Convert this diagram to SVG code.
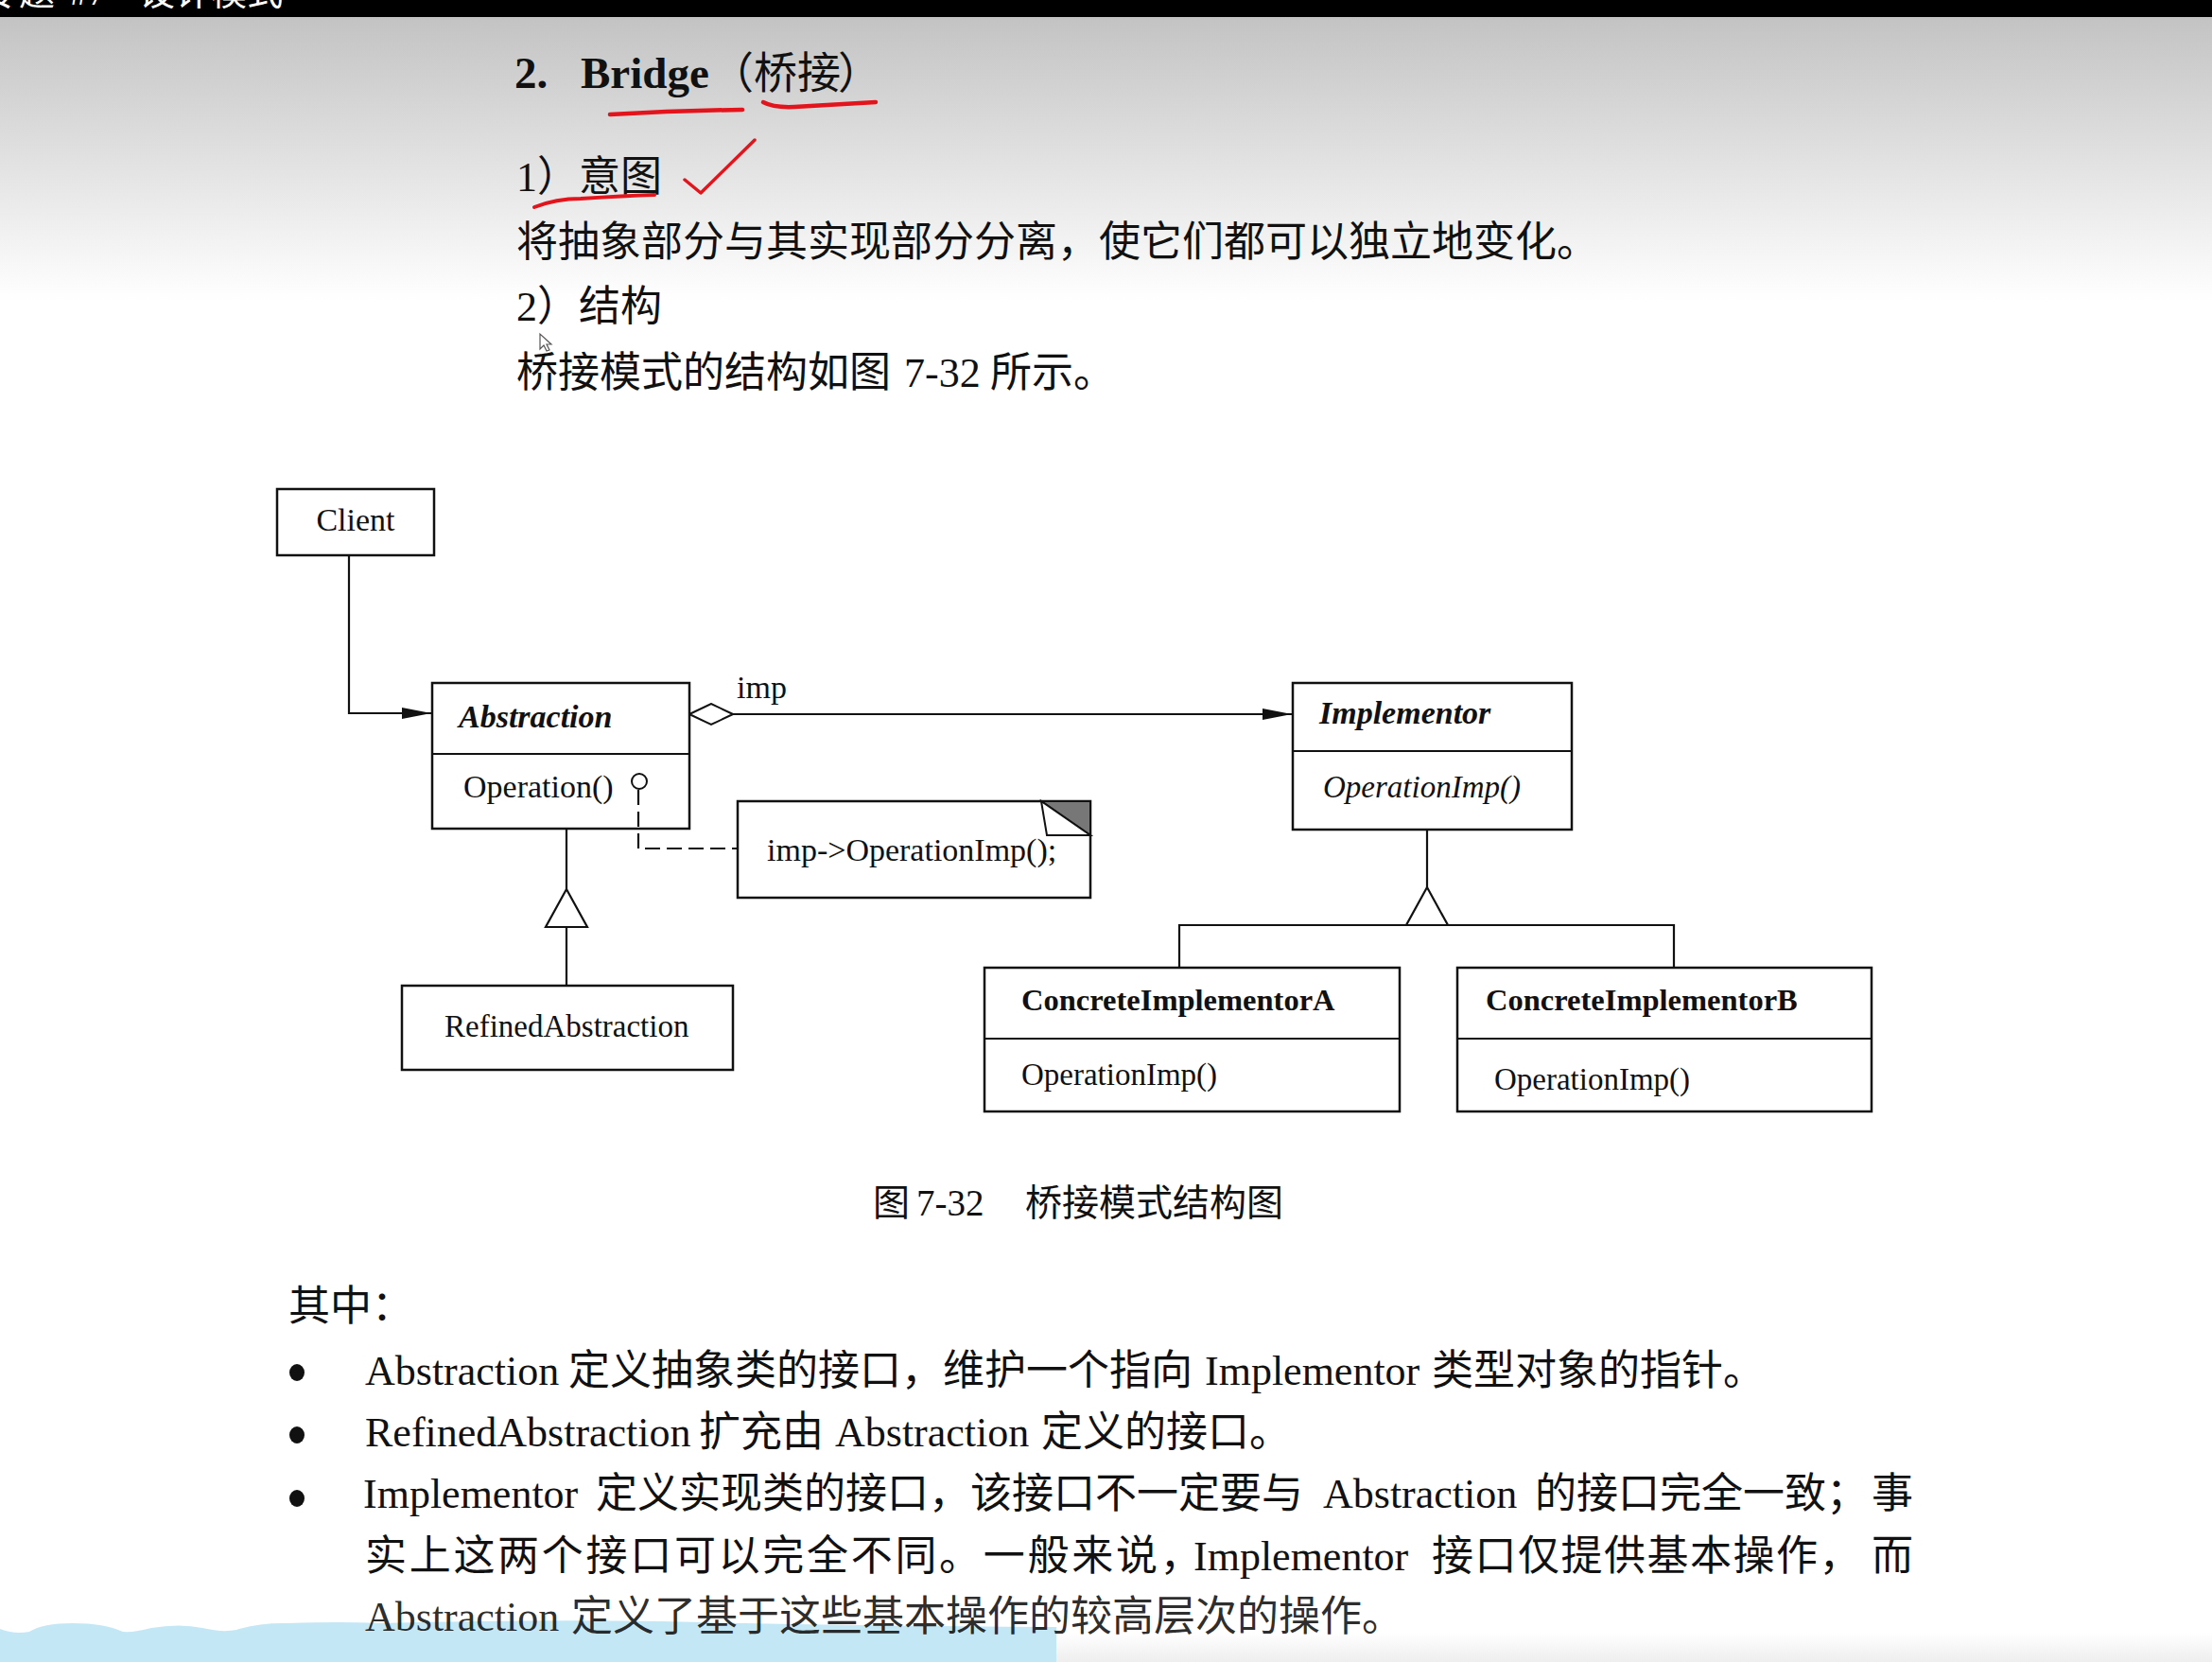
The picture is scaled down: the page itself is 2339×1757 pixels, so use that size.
<svg xmlns="http://www.w3.org/2000/svg" width="2339" height="1757" viewBox="0 0 2339 1757">
  <defs>
    <linearGradient id="topShade" x1="0" y1="0" x2="0" y2="1">
      <stop offset="0" stop-color="#c3c3c3"/>
      <stop offset="1" stop-color="#ffffff"/>
    </linearGradient>
    <linearGradient id="footShade" x1="0" y1="0" x2="0" y2="1">
      <stop offset="0" stop-color="#ffffff"/>
      <stop offset="1" stop-color="#eeeeee"/>
    </linearGradient>
    <marker id="arrowFilled" viewBox="0 0 31 12" refX="31" refY="6" markerWidth="31" markerHeight="12" markerUnits="userSpaceOnUse" orient="auto">
      <path d="M0,0 L31,6 L0,12 Z" fill="#111"/>
    </marker>
    <marker id="diamondOpen" viewBox="-1 -1 48 25" refX="0" refY="11.5" markerWidth="48" markerHeight="25" markerUnits="userSpaceOnUse" orient="auto">
      <path d="M0,11.5 L23,0.5 L46,11.5 L23,22.5 Z" fill="#fff" stroke="#111" stroke-width="2"/>
    </marker>
    <style>
      .box { fill: #fff; stroke: #111; stroke-width: 2.5; }
      .ln { fill: none; stroke: #111; stroke-width: 2.2; }
      .dash { stroke-dasharray: 16 7; }
      .tri { fill: #fff; stroke: #111; stroke-width: 2.2; stroke-linejoin: miter; }
      .t { font-family: "Liberation Serif", "Noto Sans CJK SC", serif; fill: #111; }
      .uml { font-size: 34px; }
      .cls { font-weight: bold; font-style: italic; }
      .bold { font-weight: bold; }
      .it { font-style: italic; }
      .body { font-size: 44px; }
      .ink { fill: none; stroke: #e3141c; stroke-linecap: round; stroke-linejoin: round; }
    </style>
  </defs>

  <!-- page background -->
  <rect x="0" y="0" width="2339" height="1757" fill="#fff"/>
  <rect x="0" y="18" width="2339" height="300" fill="url(#topShade)"/>
  <rect x="1117" y="1726" width="1222" height="31" fill="url(#footShade)"/>

  <!-- window title bar -->
  <rect x="0" y="0" width="2339" height="18" fill="#000"/>
  <text class="t" y="5" font-size="38" style="fill:#fff"><tspan x="-18">专</tspan><tspan x="20">题</tspan><tspan x="74">#7</tspan><tspan x="147">设计模式</tspan></text>

  <!-- heading and introduction -->
  <g id="intro">
    <text class="t" y="93" font-size="47"><tspan x="544" font-weight="bold">2.</tspan><tspan x="614" font-weight="bold">Bridge</tspan></text>
    <text class="t" y="93" font-size="46"><tspan x="751">（</tspan><tspan x="797">桥接</tspan><tspan x="886">）</tspan></text>
    <text class="t body" x="546" y="202">1）意图</text>
    <text class="t body" x="546" y="271">将抽象部分与其实现部分分离，使它们都可以独立地变化。</text>
    <text class="t body" x="546" y="339">2）结构</text>
    <text class="t body" y="409"><tspan x="546">桥接模式的结构如图</tspan><tspan x="956">7-32</tspan><tspan x="1047">所示。</tspan></text>
  </g>

  <!-- hand-drawn red marks -->
  <g id="annotations">
    <path class="ink" stroke-width="4.5" d="M645,121 Q715,117 785,116"/>
    <path class="ink" stroke-width="4.5" d="M807,108 Q818,114 840,113 L926,108"/>
    <path class="ink" stroke-width="4" d="M565,219 Q588,210 614,210 Q660,207 692,206"/>
    <path class="ink" stroke-width="3.5" d="M724,190 L741,204 L798,148"/>
  </g>

  <!-- mouse pointer -->
  <path d="M571,353 L571,369 L575,365 L578,371 L581,370 L578,364 L583,364 Z" fill="#fff" stroke="#555" stroke-width="1.2"/>

  <!-- classes -->
  <g id="client">
    <rect class="box" x="293" y="517" width="166" height="70"/>
    <text class="t uml" x="376" y="561" text-anchor="middle">Client</text>
  </g>

  <g id="abstraction">
    <rect class="box" x="457" y="722" width="272" height="154"/>
    <line class="ln" x1="457" y1="797" x2="729" y2="797" stroke-width="2.5"/>
    <text class="t uml cls" x="485" y="769">Abstraction</text>
    <text class="t uml" x="490" y="843">Operation()</text>
  </g>

  <g id="note">
    <rect class="box" x="780" y="847" width="373" height="102"/>
    <polygon points="1101,847 1153,847 1153,883" fill="#777" stroke="#111" stroke-width="2"/>
    <polygon points="1101,847 1107,883 1153,883" fill="#fff" stroke="#111" stroke-width="2"/>
    <text class="t uml" x="811" y="910">imp-&gt;OperationImp();</text>
  </g>

  <g id="refined-abstraction">
    <rect class="box" x="425" y="1042" width="350" height="89"/>
    <text class="t" x="470" y="1096" font-size="33">RefinedAbstraction</text>
  </g>

  <g id="implementor">
    <rect class="box" x="1367" y="722" width="295" height="155"/>
    <line class="ln" x1="1367" y1="794" x2="1662" y2="794" stroke-width="2.5"/>
    <text class="t uml cls" x="1395" y="765">Implementor</text>
    <text class="t it" x="1399" y="843" font-size="33">OperationImp()</text>
  </g>

  <g id="concrete-implementor-a">
    <rect class="box" x="1041" y="1023" width="439" height="152"/>
    <line class="ln" x1="1041" y1="1098" x2="1480" y2="1098" stroke-width="2.5"/>
    <text class="t bold" x="1080" y="1068" font-size="32.5">ConcreteImplementorA</text>
    <text class="t" x="1080" y="1147" font-size="33">OperationImp()</text>
  </g>

  <g id="concrete-implementor-b">
    <rect class="box" x="1541" y="1023" width="438" height="152"/>
    <line class="ln" x1="1541" y1="1098" x2="1979" y2="1098" stroke-width="2.5"/>
    <text class="t bold" x="1571" y="1068" font-size="32.5">ConcreteImplementorB</text>
    <text class="t" x="1580" y="1152" font-size="33">OperationImp()</text>
  </g>

  <!-- class diagram connectors (drawn over the boxes so the note link shows inside Abstraction) -->
  <g id="connectors">
    <path class="ln" d="M369,587 V754 H456" marker-end="url(#arrowFilled)"/>
    <path class="ln" d="M729,755 H1366" marker-start="url(#diamondOpen)" marker-end="url(#arrowFilled)"/>
    <text class="t uml" x="779" y="738">imp</text>
    <circle cx="676" cy="826" r="8" fill="#fff" stroke="#111" stroke-width="2"/>
    <path class="ln dash" d="M675,835 V897 H780"/>
    <path class="ln" d="M599,876 V940"/>
    <polygon class="tri" points="599,940 577,980 621,980"/>
    <path class="ln" d="M599,980 V1042"/>
    <path class="ln" d="M1509,877 V938"/>
    <polygon class="tri" points="1509,938 1487,978 1531,978"/>
    <path class="ln" d="M1247,1023 V978 H1770 V1023"/>
  </g>

  <!-- figure caption -->
  <text class="t" y="1285" font-size="39"><tspan x="923">图</tspan><tspan x="969">7-32</tspan><tspan x="1084">桥接模式结构图</tspan></text>

  <!-- light blue wash in the lower-left corner -->
  <path d="M0,1722 Q15,1728 31,1725 Q45,1716 77,1716 Q110,1716 130,1725 Q142,1726 160,1721 Q190,1716 214,1721 Q235,1726 250,1723 Q275,1715 306,1716 Q360,1714 400,1716 Q560,1712 700,1714 Q900,1719 1117,1720 L1117,1757 L0,1757 Z" fill="#c4e7f6"/>

  <!-- participant descriptions -->
  <g id="description">
    <text class="t body" x="305" y="1396">其中：</text>
    <ellipse cx="314" cy="1451" rx="8" ry="9" fill="#111"/>
    <ellipse cx="314" cy="1517" rx="8" ry="9" fill="#111"/>
    <ellipse cx="314" cy="1584" rx="8" ry="9" fill="#111"/>
    <text class="t body" y="1464"><tspan x="386">Abstraction</tspan><tspan x="601">定义抽象类的接口，维护一个指向</tspan><tspan x="1274">Implementor</tspan><tspan x="1514">类型对象的指针。</tspan></text>
    <text class="t body" y="1529"><tspan x="386">RefinedAbstraction</tspan><tspan x="739">扩充由</tspan><tspan x="883">Abstraction</tspan><tspan x="1101">定义的接口。</tspan></text>
    <text class="t body" y="1594"><tspan x="384">Implementor</tspan><tspan x="630">定义实现类的接口，该接口不一定要与</tspan><tspan x="1399">Abstraction</tspan><tspan x="1623">的接口完全一致；</tspan><tspan x="1979">事</tspan></text>
    <text class="t body" y="1660"><tspan x="386" letter-spacing="2.7">实上这两个接口可以完全不同。一般来说，</tspan><tspan x="1262">Implementor</tspan><tspan x="1514" letter-spacing="1.5">接口仅提供基本操作，</tspan><tspan x="1979">而</tspan></text>
    <text class="t body" y="1724" fill-opacity="0.9"><tspan x="386">Abstraction</tspan><tspan x="604">定义了基于这些基本操作的较高层次的操作。</tspan></text>
  </g>
</svg>
